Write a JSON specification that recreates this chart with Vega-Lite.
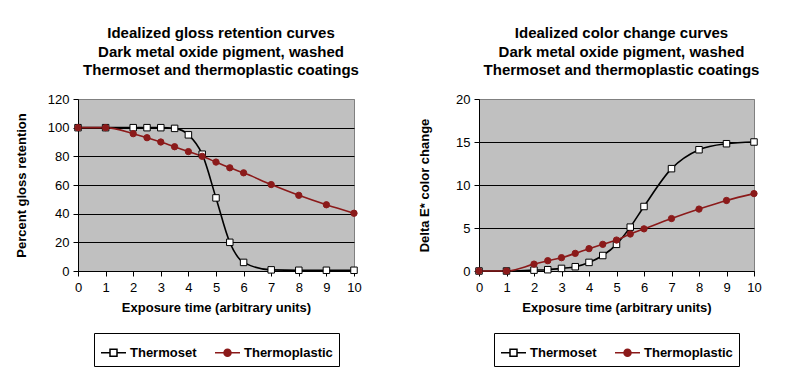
{
  "$schema": "https://vega.github.io/schema/vega-lite/v6.json",
  "background": "white",
  "padding": {"left": 14, "top": 25, "right": 5, "bottom": 5},
  "spacing": 56,
  "datasets": {
    "gloss": [
      {"t": 0, "series": "Thermoset", "v": 100},
      {"t": 1, "series": "Thermoset", "v": 100},
      {"t": 2, "series": "Thermoset", "v": 100},
      {"t": 2.5, "series": "Thermoset", "v": 100},
      {"t": 3, "series": "Thermoset", "v": 100},
      {"t": 3.5, "series": "Thermoset", "v": 99.5},
      {"t": 4, "series": "Thermoset", "v": 95},
      {"t": 4.5, "series": "Thermoset", "v": 81.5},
      {"t": 5, "series": "Thermoset", "v": 51},
      {"t": 5.5, "series": "Thermoset", "v": 20},
      {"t": 6, "series": "Thermoset", "v": 6},
      {"t": 7, "series": "Thermoset", "v": 0.8},
      {"t": 8, "series": "Thermoset", "v": 0.5},
      {"t": 9, "series": "Thermoset", "v": 0.5},
      {"t": 10, "series": "Thermoset", "v": 0.5},
      {"t": 0, "series": "Thermoplastic", "v": 100},
      {"t": 1, "series": "Thermoplastic", "v": 100},
      {"t": 2, "series": "Thermoplastic", "v": 95.8},
      {"t": 2.5, "series": "Thermoplastic", "v": 93},
      {"t": 3, "series": "Thermoplastic", "v": 90},
      {"t": 3.5, "series": "Thermoplastic", "v": 86.7},
      {"t": 4, "series": "Thermoplastic", "v": 83.3},
      {"t": 4.5, "series": "Thermoplastic", "v": 80},
      {"t": 5, "series": "Thermoplastic", "v": 76},
      {"t": 5.5, "series": "Thermoplastic", "v": 72},
      {"t": 6, "series": "Thermoplastic", "v": 68.5},
      {"t": 7, "series": "Thermoplastic", "v": 60.3},
      {"t": 8, "series": "Thermoplastic", "v": 52.8},
      {"t": 9, "series": "Thermoplastic", "v": 46.2},
      {"t": 10, "series": "Thermoplastic", "v": 40.3}
    ],
    "color": [
      {"t": 0, "series": "Thermoset", "v": 0},
      {"t": 1, "series": "Thermoset", "v": 0},
      {"t": 2, "series": "Thermoset", "v": 0.1},
      {"t": 2.5, "series": "Thermoset", "v": 0.15},
      {"t": 3, "series": "Thermoset", "v": 0.3},
      {"t": 3.5, "series": "Thermoset", "v": 0.5},
      {"t": 4, "series": "Thermoset", "v": 1.0},
      {"t": 4.5, "series": "Thermoset", "v": 1.8},
      {"t": 5, "series": "Thermoset", "v": 3.1},
      {"t": 5.5, "series": "Thermoset", "v": 5.1},
      {"t": 6, "series": "Thermoset", "v": 7.5},
      {"t": 7, "series": "Thermoset", "v": 11.9},
      {"t": 8, "series": "Thermoset", "v": 14.1},
      {"t": 9, "series": "Thermoset", "v": 14.8},
      {"t": 10, "series": "Thermoset", "v": 15},
      {"t": 0, "series": "Thermoplastic", "v": 0},
      {"t": 1, "series": "Thermoplastic", "v": 0},
      {"t": 2, "series": "Thermoplastic", "v": 0.8},
      {"t": 2.5, "series": "Thermoplastic", "v": 1.2},
      {"t": 3, "series": "Thermoplastic", "v": 1.55},
      {"t": 3.5, "series": "Thermoplastic", "v": 2.05},
      {"t": 4, "series": "Thermoplastic", "v": 2.6},
      {"t": 4.5, "series": "Thermoplastic", "v": 3.1},
      {"t": 5, "series": "Thermoplastic", "v": 3.6},
      {"t": 5.5, "series": "Thermoplastic", "v": 4.3},
      {"t": 6, "series": "Thermoplastic", "v": 4.9},
      {"t": 7, "series": "Thermoplastic", "v": 6.1},
      {"t": 8, "series": "Thermoplastic", "v": 7.2},
      {"t": 9, "series": "Thermoplastic", "v": 8.2},
      {"t": 10, "series": "Thermoplastic", "v": 9.0}
    ]
  },
  "hconcat": [
    {
      "title": {"text": ["Idealized gloss retention curves", "Dark metal oxide pigment, washed", "Thermoset and thermoplastic coatings"], "dx": 5},
      "width": 276,
      "height": 172,
      "data": {"name": "gloss"},
      "encoding": {
        "x": {"field": "t", "type": "quantitative", "scale": {"domain": [0, 10], "nice": false}, "axis": {"values": [0, 1, 2, 3, 4, 5, 6, 7, 8, 9, 10], "title": "Exposure time (arbitrary units)"}},
        "y": {"field": "v", "type": "quantitative", "scale": {"domain": [0, 120], "nice": false}, "axis": {"values": [0, 20, 40, 60, 80, 100, 120], "title": "Percent gloss retention", "titlePadding": 19, "gridColor": {"condition": {"test": "datum.value === 120", "value": "#808080"}, "value": "#000000"}}}
      },
      "layer": [
        {
          "mark": {"type": "line", "interpolate": "monotone", "strokeWidth": 1.6},
          "encoding": {
            "color": {"field": "series", "type": "nominal", "scale": {"domain": ["Thermoset", "Thermoplastic"], "range": ["#000000", "#8b1a1a"]},
              "legend": {"orient": "bottom", "direction": "horizontal", "title": null, "offset": 19, "strokeColor": "#000000", "padding": 6, "columnPadding": 15, "labelOffset": 3, "labelFontSize": 13, "labelFontWeight": "bold", "labelColor": "#000000", "symbolSize": 625, "symbolStrokeWidth": 1.5,
                "encode": {"symbols": {"update": {
                  "shape": {"signal": "datum.value === 'Thermoset' ? 'M-1,0H-0.28M0.28,0H1M-0.28,-0.28H0.28V0.28H-0.28Z' : 'M-1,0H1M-0.28,0A0.28,0.28 0 1,0 0.28,0A0.28,0.28 0 1,0 -0.28,0Z'"},
                  "fill": {"signal": "datum.value === 'Thermoset' ? '#ffffff' : '#8b1a1a'"},
                  "opacity": {"value": 1}
                }}}}}
          }
        },
        {
          "transform": [{"filter": {"field": "series", "equal": "Thermoset"}}],
          "mark": {"type": "point", "shape": "square", "filled": true, "fill": "#ffffff", "stroke": "#000000", "size": 42, "strokeWidth": 1, "opacity": 1}
        },
        {
          "transform": [{"filter": {"field": "series", "equal": "Thermoplastic"}}],
          "mark": {"type": "point", "shape": "circle", "filled": true, "fill": "#8b1a1a", "stroke": "#8b1a1a", "size": 40, "strokeWidth": 1, "opacity": 1}
        }
      ]
    },
    {
      "title": {"text": ["Idealized color change curves", "Dark metal oxide pigment, washed", "Thermoset and thermoplastic coatings"], "dx": 5},
      "width": 275,
      "height": 172,
      "data": {"name": "color"},
      "encoding": {
        "x": {"field": "t", "type": "quantitative", "scale": {"domain": [0, 10], "nice": false}, "axis": {"values": [0, 1, 2, 3, 4, 5, 6, 7, 8, 9, 10], "title": "Exposure time (arbitrary units)"}},
        "y": {"field": "v", "type": "quantitative", "scale": {"domain": [0, 20], "nice": false}, "axis": {"values": [0, 5, 10, 15, 20], "title": "Delta E* color change", "titlePadding": 24, "gridColor": {"condition": {"test": "datum.value === 20", "value": "#808080"}, "value": "#000000"}}}
      },
      "layer": [
        {
          "mark": {"type": "line", "interpolate": "monotone", "strokeWidth": 1.6},
          "encoding": {
            "color": {"field": "series", "type": "nominal", "scale": {"domain": ["Thermoset", "Thermoplastic"], "range": ["#000000", "#8b1a1a"]},
              "legend": {"orient": "bottom", "direction": "horizontal", "title": null, "offset": 19, "strokeColor": "#000000", "padding": 6, "columnPadding": 15, "labelOffset": 3, "labelFontSize": 13, "labelFontWeight": "bold", "labelColor": "#000000", "symbolSize": 625, "symbolStrokeWidth": 1.5,
                "encode": {"symbols": {"update": {
                  "shape": {"signal": "datum.value === 'Thermoset' ? 'M-1,0H-0.28M0.28,0H1M-0.28,-0.28H0.28V0.28H-0.28Z' : 'M-1,0H1M-0.28,0A0.28,0.28 0 1,0 0.28,0A0.28,0.28 0 1,0 -0.28,0Z'"},
                  "fill": {"signal": "datum.value === 'Thermoset' ? '#ffffff' : '#8b1a1a'"},
                  "opacity": {"value": 1}
                }}}}}
          }
        },
        {
          "transform": [{"filter": {"field": "series", "equal": "Thermoset"}}],
          "mark": {"type": "point", "shape": "square", "filled": true, "fill": "#ffffff", "stroke": "#000000", "size": 42, "strokeWidth": 1, "opacity": 1}
        },
        {
          "transform": [{"filter": {"field": "series", "equal": "Thermoplastic"}}],
          "mark": {"type": "point", "shape": "circle", "filled": true, "fill": "#8b1a1a", "stroke": "#8b1a1a", "size": 40, "strokeWidth": 1, "opacity": 1}
        }
      ]
    }
  ],
  "resolve": {
    "scale": {"color": "independent", "x": "independent", "y": "independent"},
    "legend": {"color": "independent"}
  },
  "config": {
    "font": "Liberation Sans",
    "view": {"fill": "#c0c0c0", "stroke": "#808080", "strokeWidth": 1},
    "axis": {"labelFontSize": 13, "labelColor": "#000000", "labelFont": "Liberation Sans", "titleFont": "Liberation Sans", "titleFontSize": 13, "titleFontWeight": "bold", "titleColor": "#000000", "domainColor": "#000000", "tickColor": "#000000", "gridOpacity": 1, "gridWidth": 1, "tickSize": 5, "labelFlush": false},
    "axisX": {"grid": false, "labelPadding": 5, "titlePadding": 7},
    "axisY": {"grid": true, "labelPadding": 4},
    "title": {"fontSize": 15, "fontWeight": "bold", "font": "Liberation Sans", "lineHeight": 18.5, "offset": 15, "anchor": "middle", "color": "#000000"},
    "legend": {"labelFont": "Liberation Sans", "layout": {"bottom": {"anchor": "middle"}}}
  }
}
